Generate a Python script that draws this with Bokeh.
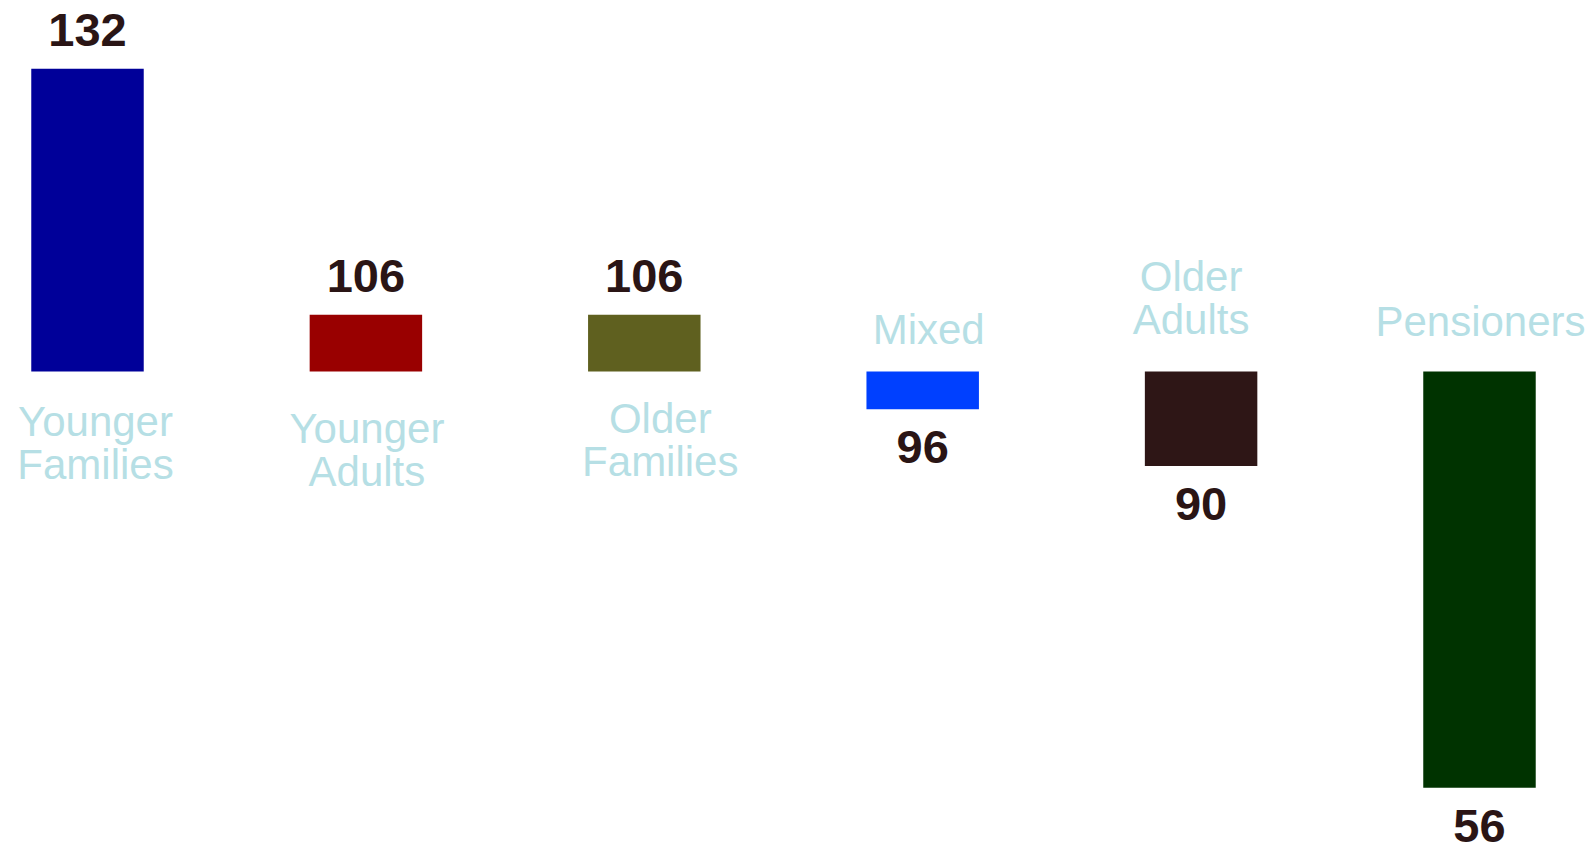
from bokeh.plotting import figure
from bokeh.models import Range1d, ColumnDataSource
from bokeh.core.properties import value
from bokeh.embed import file_html
from bokeh.resources import INLINE

# ---- data ----
categories = ["Younger\nFamilies", "Younger\nAdults", "Older\nFamilies", "Mixed", "Older\nAdults", "Pensioners"]
values = [132, 106, 106, 96, 90, 56]
colors = ["#000099", "#990000", "#5f601f", "#0040ff", "#2e1616", "#003300"]
baseline = 100

# ---- layout tweaks (screen px) ----
label_dx = [8, 1, 16, 6, -10, 1]
label_dy = [50, 57, 47, -42, -52, -50]   # first line (below) / last line (above) relative to baseline
line_gap = 43

xs = list(range(len(categories)))
p = figure(width=1595, height=844, output_backend="svg", toolbar_location=None,
           x_range=Range1d(-0.3125, 5.4167), y_range=Range1d(50.0, 139.22),
           x_axis_type=None, y_axis_type=None, min_border=0,
           background_fill_color="white", border_fill_color="white")
p.outline_line_color = None
p.xgrid.visible = False
p.ygrid.visible = False

src = ColumnDataSource(dict(x=xs, top=values, color=colors))
p.vbar(x="x", top="top", bottom=baseline, width=0.404, fill_color="color",
       line_color=None, source=src)

# value labels
vx, vy, vt, voff = [], [], [], []
for i, v in enumerate(values):
    vx.append(i)
    vy.append(v)
    vt.append(str(v))
    voff.append(-39 if v >= baseline else 38)
p.text(x=vx, y=vy, text=vt, y_offset=voff, text_align="center", text_baseline="alphabetic",
       text_font=value("Liberation Sans"), text_font_style="bold", text_font_size="47px",
       text_color="#2a1515")

# category labels
cx, cy, ct, cxo, cyo = [], [], [], [], []
for i, (cat, v) in enumerate(zip(categories, values)):
    lines = cat.split("\n")
    n = len(lines)
    for j, line in enumerate(lines):
        if v >= baseline:
            off = label_dy[i] + j * line_gap
        else:
            off = label_dy[i] - (n - 1 - j) * line_gap
        cx.append(i)
        cy.append(baseline)
        ct.append(line)
        cxo.append(label_dx[i])
        cyo.append(off)
p.text(x=cx, y=cy, text=ct, x_offset=cxo, y_offset=cyo, text_align="center",
       text_baseline="alphabetic", text_font=value("Liberation Sans"),
       text_font_size="42px", text_color="#b6dfe5")

open("out.html", "w").write(file_html(p, INLINE))
